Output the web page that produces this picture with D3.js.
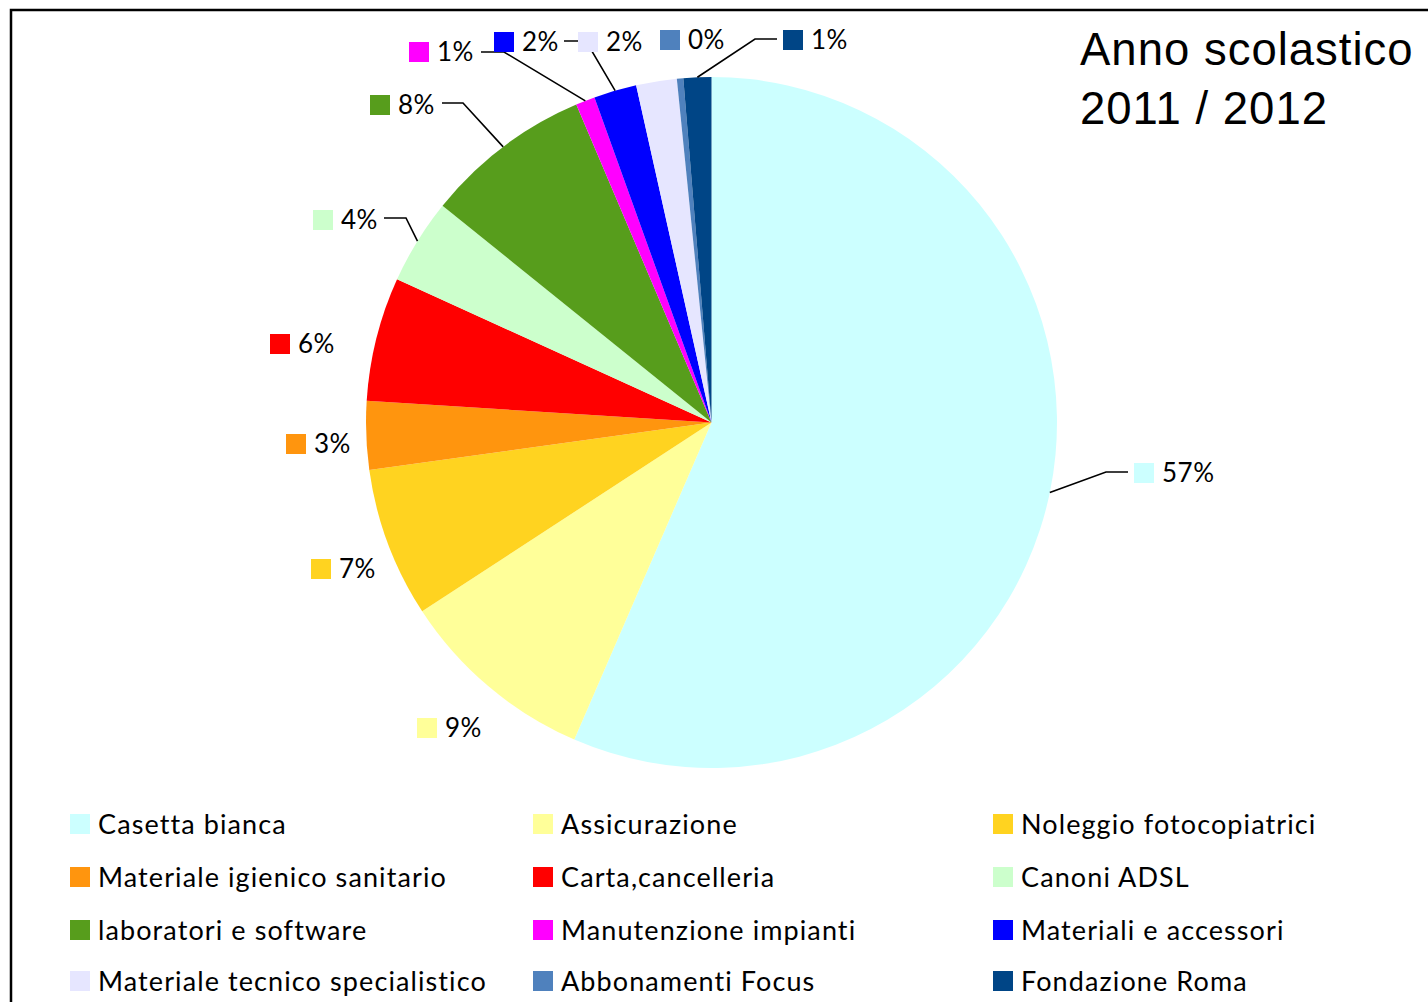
<!DOCTYPE html>
<html>
<head>
<meta charset="utf-8">
<script src="https://cdn.jsdelivr.net/npm/d3@7"></script>
<style>
  html, body { margin: 0; padding: 0; background: #fff; }
  svg { display: block; }
</style>
</head>
<body>
<div id="chart"></div>
<script>
// data
var categories = ["Casetta bianca", "Assicurazione", "Noleggio fotocopiatrici",
    "Materiale igienico sanitario", "Carta,cancelleria", "Canoni ADSL",
    "laboratori e software", "Manutenzione impianti", "Materiali e accessori",
    "Materiale tecnico specialistico", "Abbonamenti Focus", "Fondazione Roma"];
var shares = [56.5, 9.3, 7.0, 3.2, 5.8, 4.0, 7.8, 0.9, 2.0, 1.9, 0.3, 1.3];
var colors = ["#CCFFFF", "#FFFF99", "#FFD320", "#FF950E", "#FF0000", "#CCFFCC",
    "#579D1C", "#FF00FF", "#0000FF", "#E6E6FF", "#4F81BD", "#004586"];
var titleLines = ["Anno scolastico", "2011 / 2012"];

// where each data label sits (square left x, square centre y) and its leader (elbow, end)
var labelPos = [
    {x: 1134, y: 473, leader: [[1106, 472], [1128, 472]]},
    {x: 417, y: 728},
    {x: 311, y: 569},
    {x: 286, y: 444},
    {x: 270, y: 344},
    {x: 313, y: 220, leader: [[406, 218], [384, 218]]},
    {x: 370, y: 105, leader: [[463, 103], [442, 103]]},
    {x: 409, y: 52, leader: [[504, 52], [481, 52]]},
    {x: 494, y: 42, leader: [[586, 41], [564, 41]]},
    {x: 578, y: 42},
    {x: 660, y: 40},
    {x: 783, y: 40, leader: [[755, 39], [777, 39]]}
];

var W = 1428, H = 1002;
var cx = 711.5, cy = 422.5, R = 345.5;
var fontLabel = "Lato, 'Noto Sans', sans-serif";

var svg = d3.select("#chart").append("svg")
    .attr("width", W)
    .attr("height", H);

svg.append("rect").attr("width", W).attr("height", H).attr("fill", "#fff");

// frame (right and bottom edges fall outside the picture)
svg.append("rect")
    .attr("x", 11).attr("y", 10)
    .attr("width", 1500).attr("height", 1100)
    .attr("fill", "none")
    .attr("stroke", "#000")
    .attr("stroke-width", 2.5);

var pie = d3.pie().sort(null).value(function (d) { return d; });
var arcs = pie(shares);
var arc = d3.arc().innerRadius(0).outerRadius(R);

var pieG = svg.append("g").attr("transform", "translate(" + cx + "," + cy + ")");
pieG.selectAll("path")
    .data(arcs)
    .join("path")
    .attr("d", arc)
    .attr("fill", function (d, i) { return colors[i]; });

// leader lines
var lineG = svg.append("g");
arcs.forEach(function (a, i) {
    var lp = labelPos[i];
    if (!lp.leader) return;
    var mid = (a.startAngle + a.endAngle) / 2;
    var p0 = [cx + R * Math.sin(mid), cy - R * Math.cos(mid)];
    var pts = [p0].concat(lp.leader);
    lineG.append("path")
        .attr("d", d3.line()(pts))
        .attr("fill", "none")
        .attr("stroke", "#000")
        .attr("stroke-width", 1.6);
});

// data labels: key square + percentage
var labG = svg.append("g");
arcs.forEach(function (a, i) {
    var lp = labelPos[i];
    labG.append("rect")
        .attr("x", lp.x).attr("y", lp.y - 10)
        .attr("width", 20).attr("height", 20)
        .attr("fill", colors[i]);
    labG.append("text")
        .attr("x", lp.x + 28).attr("y", lp.y)
        .attr("dy", "0.36em")
        .style("font-family", fontLabel)
        .style("font-size", "26px")
        .style("letter-spacing", "0.5px")
        .attr("fill", "#000")
        .text(Math.round(shares[i]) + "%");
});

// title
svg.append("g").selectAll("text")
    .data(titleLines)
    .join("text")
    .attr("x", 1080)
    .attr("y", function (d, i) { return 65 + i * 59; })
    .style("font-family", "'Liberation Sans', Arial, sans-serif")
    .style("font-size", "45.5px")
    .style("letter-spacing", "1px")
    .attr("fill", "#000")
    .text(function (d) { return d; });

// legend: 3 columns, row by row
var colX = [70, 533, 993];
var rowY = [824, 877, 930, 981];
var legend = svg.append("g").selectAll("g")
    .data(categories)
    .join("g")
    .attr("transform", function (d, i) {
        return "translate(" + colX[i % 3] + "," + rowY[Math.floor(i / 3)] + ")";
    });
legend.append("rect")
    .attr("x", 0).attr("y", -10)
    .attr("width", 20).attr("height", 20)
    .attr("fill", function (d, i) { return colors[i]; });
legend.append("text")
    .attr("x", 28).attr("y", 0)
    .attr("dy", "0.36em")
    .style("font-family", fontLabel)
    .style("font-size", "27px")
    .style("letter-spacing", "1.1px")
    .attr("fill", "#000")
    .text(function (d) { return d; });
</script>
</body>
</html>
